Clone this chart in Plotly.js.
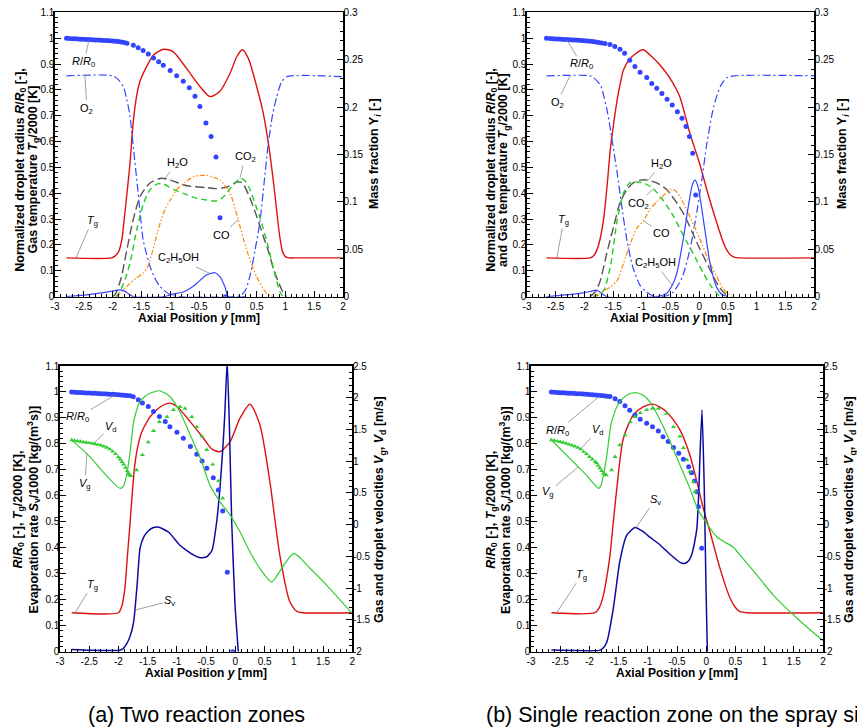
<!DOCTYPE html>
<html><head><meta charset="utf-8">
<script src="https://cdn.plot.ly/plotly-3.0.1.min.js"></script>
<style>html,body{margin:0;padding:0;background:#fff;}#chart{width:857px;height:728px;}</style>
</head><body><div id="chart"></div>
<script>
// ---------- tick labels ----------
const xTickVals = [-3,-2.5,-2,-1.5,-1,-0.5,0,0.5,1,1.5,2];
const xTickText = ["-3","-2.5","-2","-1.5","-1","-0.5","0","0.5","1","1.5","2"];
const vTickVals = [-2,-1.5,-1,-0.5,0,0.5,1,1.5,2,2.5];
const vTickText = ["-2","-1.5","-1","-0.5","0","0.5","1","1.5","2","2.5"];

// ---------- (a) top: two reaction zones ----------
const tlR_x = [-2.8,-2.75,-2.7,-2.65,-2.6,-2.55,-2.5,-2.45,-2.4,-2.35,-2.3,-2.25,-2.2,-2.15,-2.1,-2.05,-2.0,-1.95,-1.9,-1.85,-1.8,-1.75,-1.64,-1.556,-1.47,-1.38,-1.29,-1.2,-1.12,-1.0,-0.888,-0.773,-0.669,-0.57,-0.484,-0.38,-0.29,-0.205,-0.135,-0.04];
const tlR_y = [1.0,0.999,0.998,0.998,0.997,0.996,0.996,0.995,0.995,0.994,0.993,0.993,0.992,0.991,0.991,0.99,0.989,0.988,0.987,0.985,0.983,0.98,0.973,0.963,0.952,0.939,0.923,0.909,0.895,0.875,0.855,0.833,0.808,0.775,0.736,0.672,0.62,0.54,0.305,0.0];
const tlT_x = [-2.8,-2.02,-1.96,-1.9,-1.84,-1.8,-1.76,-1.7,-1.64,-1.58,-1.52,-1.41,-1.29,-1.12,-0.95,-0.72,-0.48,-0.31,-0.135,0.04,0.155,0.252,0.356,0.5,0.615,0.7,0.75,0.8,0.85,0.9,0.95,1.0,1.06,1.15,2.0];
const tlT_y = [0.15,0.15,0.157,0.172,0.22,0.297,0.38,0.51,0.68,0.78,0.836,0.89,0.935,0.957,0.948,0.884,0.812,0.774,0.795,0.864,0.928,0.955,0.922,0.814,0.71,0.60,0.52,0.43,0.33,0.235,0.175,0.155,0.15,0.15,0.15];
const tlO2_x = [-2.8,-2.0,-1.9,-1.81,-1.75,-1.7,-1.64,-1.58,-1.52,-1.47,-1.41,-1.35,-1.27,-1.18,-1.0,-0.83,0.1,0.21,0.3,0.385,0.47,0.56,0.63,0.70,0.78,0.85,0.93,1.02,2.0];
const tlO2_y = [0.233,0.233,0.229,0.221,0.207,0.191,0.158,0.123,0.087,0.060,0.045,0.032,0.02,0.011,0.002,0,0,0.001,0.006,0.022,0.048,0.08,0.12,0.16,0.193,0.211,0.226,0.232,0.232];
const tlH2O_x = [-2.0,-1.95,-1.85,-1.77,-1.64,-1.52,-1.35,-1.15,-1.0,-0.71,-0.36,-0.2,0.0,0.16,0.25,0.385,0.5,0.62,0.7,0.79,0.94,1.02];
const tlH2O_y = [0,0.003,0.02,0.044,0.082,0.106,0.12,0.125,0.123,0.117,0.115,0.114,0.116,0.121,0.12,0.104,0.085,0.063,0.049,0.03,0.007,0];
const tlCO2_x = [-1.95,-1.9,-1.81,-1.70,-1.58,-1.47,-1.35,-1.22,-1.12,-0.94,-0.77,-0.55,-0.37,-0.2,-0.1,0.0,0.095,0.224,0.3,0.385,0.48,0.56,0.70,0.8,0.906,0.96];
const tlCO2_y = [0,0.003,0.014,0.035,0.071,0.097,0.113,0.119,0.119,0.113,0.109,0.104,0.102,0.101,0.104,0.111,0.118,0.125,0.122,0.113,0.097,0.083,0.053,0.028,0.005,0];
const tlCO_x = [-1.93,-1.8,-1.7,-1.6,-1.47,-1.4,-1.32,-1.22,-1.12,-1.0,-0.89,-0.75,-0.6,-0.45,-0.37,-0.25,-0.135,0.04,0.18,0.33,0.5,0.675,0.8];
const tlCO_y = [0,0.008,0.014,0.019,0.025,0.03,0.045,0.068,0.088,0.102,0.1126,0.12,0.1266,0.128,0.128,0.126,0.123,0.109,0.081,0.049,0.021,0.0036,0];
const tlEt_x = [-2.8,-2.6,-2.39,-2.2,-2.05,-1.95,-1.87,-1.8,-1.76,-1.7,-1.64,-1.1,-1.0,-0.9,-0.77,-0.65,-0.54,-0.45,-0.37,-0.3,-0.22,-0.135,-0.05,0.01,0.3];
const tlEt_y = [0,0.0012,0.0025,0.004,0.0055,0.0065,0.0072,0.0062,0.0048,0.002,0,0,0.002,0.0035,0.005,0.009,0.014,0.019,0.023,0.0245,0.0253,0.021,0.0105,0,0];

// ---------- (b) top: single reaction zone ----------
const trR_x = [-2.66,-2.6,-2.55,-2.5,-2.45,-2.4,-2.35,-2.3,-2.25,-2.2,-2.15,-2.1,-2.05,-2.0,-1.95,-1.9,-1.85,-1.8,-1.75,-1.7,-1.64,-1.554,-1.47,-1.38,-1.3,-1.21,-1.12,-1.03,-0.914,-0.826,-0.74,-0.65,-0.56,-0.47,-0.38,-0.3,-0.23,-0.17,-0.113,-0.061];
const trR_y = [1.0,0.999,0.998,0.997,0.997,0.996,0.995,0.995,0.994,0.993,0.993,0.992,0.991,0.99,0.989,0.988,0.987,0.985,0.983,0.981,0.979,0.975,0.968,0.957,0.942,0.915,0.89,0.868,0.848,0.825,0.806,0.786,0.764,0.741,0.715,0.69,0.658,0.62,0.555,0.393];
const trT_x = [-2.66,-1.9,-1.84,-1.78,-1.72,-1.66,-1.6,-1.55,-1.49,-1.43,-1.37,-1.32,-1.2,-1.03,-0.97,-0.857,-0.683,-0.51,-0.34,-0.16,0.0,0.15,0.3,0.42,0.48,0.55,0.62,0.71,2.0];
const trT_y = [0.15,0.15,0.158,0.182,0.23,0.31,0.44,0.567,0.67,0.76,0.83,0.877,0.922,0.952,0.955,0.935,0.896,0.845,0.774,0.63,0.52,0.40,0.29,0.21,0.181,0.16,0.152,0.15,0.15];
const trO2_x = [-2.66,-1.9,-1.84,-1.72,-1.61,-1.52,-1.43,-1.35,-1.26,-1.15,-1.03,-0.92,-0.8,-0.66,-0.566,-0.45,-0.3,-0.16,-0.04,0.05,0.13,0.25,0.37,0.48,0.6,2.0];
const trO2_y = [0.233,0.233,0.231,0.223,0.198,0.166,0.131,0.096,0.06,0.03,0.012,0.005,0.001,0,0.001,0.005,0.02,0.05,0.09,0.125,0.16,0.2,0.222,0.231,0.233,0.233];
const trH2O_x = [-1.9,-1.8,-1.72,-1.61,-1.49,-1.38,-1.26,-1.15,-1.03,-0.9,-0.74,-0.566,-0.39,-0.25,-0.1,0.014,0.13,0.25,0.35,0.45,0.51];
const trH2O_y = [0,0.006,0.0176,0.046,0.074,0.099,0.113,0.12,0.123,0.123,0.12,0.113,0.099,0.085,0.065,0.05,0.036,0.021,0.01,0.003,0];
const trCO2_x = [-1.85,-1.75,-1.66,-1.55,-1.43,-1.32,-1.21,-1.09,-0.97,-0.8,-0.62,-0.45,-0.28,-0.1,0.07,0.22,0.36];
const trCO2_y = [0,0.002,0.007,0.031,0.08,0.109,0.12,0.121,0.12,0.114,0.101,0.085,0.065,0.045,0.025,0.01,0];
const trCO_x = [-1.85,-1.7,-1.55,-1.43,-1.32,-1.2,-1.09,-0.97,-0.86,-0.74,-0.6,-0.51,-0.42,-0.33,-0.16,0.01,0.18,0.3,0.42,0.51,0.56];
const trCO_y = [0,0.005,0.01,0.017,0.035,0.056,0.072,0.08,0.092,0.1,0.108,0.113,0.112,0.105,0.084,0.061,0.036,0.022,0.008,0.003,0];
const trEt_x = [-2.66,-2.4,-2.08,-1.9,-1.79,-1.7,-1.61,-0.75,-0.566,-0.47,-0.39,-0.28,-0.19,-0.12,-0.073,-0.03,0.014,0.1,0.19,0.3,0.4,0.5];
const trEt_y = [0,0.0015,0.0036,0.0055,0.007,0.0036,0,0,0.0036,0.012,0.0247,0.06,0.095,0.118,0.123,0.118,0.105,0.07,0.035,0.0105,0.002,0];

// ---------- (a) bottom ----------
const blR_x = [-2.8,-2.75,-2.7,-2.65,-2.6,-2.55,-2.5,-2.45,-2.4,-2.35,-2.3,-2.25,-2.2,-2.15,-2.1,-2.05,-2.0,-1.95,-1.9,-1.85,-1.8,-1.746,-1.66,-1.59,-1.49,-1.4,-1.3,-1.2,-1.12,-1.0,-0.89,-0.77,-0.66,-0.57,-0.49,-0.378,-0.292,-0.217,-0.138,-0.046];
const blR_y = [1.0,0.999,0.998,0.998,0.997,0.996,0.996,0.995,0.995,0.994,0.993,0.993,0.992,0.991,0.991,0.99,0.989,0.988,0.987,0.986,0.985,0.982,0.97,0.958,0.944,0.925,0.906,0.886,0.866,0.845,0.822,0.79,0.76,0.734,0.706,0.67,0.623,0.542,0.306,0.0];
const blVd_x = [-2.8,-2.75,-2.7,-2.65,-2.6,-2.55,-2.5,-2.45,-2.4,-2.35,-2.3,-2.25,-2.2,-2.15,-2.1,-2.05,-2.0,-1.97,-1.94,-1.91,-1.88,-1.85,-1.83,-1.81,-1.79,-1.69,-1.59,-1.49,-1.4,-1.3,-1.17,-1.06,-0.947,-0.86,-0.745,-0.66,-0.57,-0.49,-0.388,-0.29,-0.217];
const blVd_y = [1.333,1.325,1.317,1.31,1.302,1.295,1.288,1.28,1.27,1.26,1.25,1.235,1.215,1.19,1.155,1.115,1.065,1.03,0.99,0.95,0.9,0.85,0.81,0.785,0.77,0.86,1.1,1.3,1.48,1.62,1.7,1.81,1.858,1.83,1.7,1.54,1.39,1.18,0.95,0.69,0.416];
const blVg_x = [-2.8,-2.52,-2.29,-2.12,-2.02,-1.97,-1.92,-1.86,-1.8,-1.74,-1.68,-1.63,-1.55,-1.46,-1.3,-1.12,-0.95,-0.77,-0.6,-0.434,-0.263,-0.09,0.079,0.25,0.42,0.62,0.79,1.0,1.28,1.56,2.0];
const blVg_y = [1.333,1.10,0.86,0.69,0.6,0.573,0.6,0.78,1.15,1.62,1.83,1.94,2.02,2.07,2.11,2.02,1.78,1.41,1.05,0.62,0.36,0.15,-0.11,-0.43,-0.69,-0.90,-0.69,-0.45,-0.69,-0.95,-1.40];
const blT_x = [-2.8,-2.0,-1.95,-1.89,-1.85,-1.8,-1.76,-1.72,-1.66,-1.6,-1.5,-1.43,-1.26,-1.12,-1.0,-0.77,-0.54,-0.4,-0.263,-0.09,0.079,0.25,0.42,0.59,0.76,0.93,1.05,1.15,2.0];
const blT_y = [0.15,0.15,0.17,0.244,0.36,0.50,0.62,0.72,0.80,0.847,0.89,0.912,0.946,0.957,0.944,0.885,0.82,0.78,0.77,0.809,0.899,0.953,0.873,0.655,0.372,0.193,0.155,0.15,0.15];
const blSv_x = [-2.8,-2.5,-2.0,-1.92,-1.86,-1.8,-1.74,-1.68,-1.63,-1.56,-1.49,-1.4,-1.32,-1.14,-0.95,-0.72,-0.6,-0.49,-0.4,-0.32,-0.26,-0.21,-0.18,-0.14,-0.1,-0.063,-0.006,0.05];
const blSv_y = [0.008,0.006,0.005,0.012,0.03,0.06,0.115,0.26,0.40,0.445,0.465,0.478,0.48,0.46,0.41,0.373,0.362,0.365,0.39,0.5,0.64,0.8,0.92,1.12,0.85,0.5,0.18,0];

// ---------- (b) bottom ----------
const brR_x = [-2.65,-2.6,-2.55,-2.5,-2.45,-2.4,-2.35,-2.3,-2.25,-2.2,-2.15,-2.1,-2.05,-2.0,-1.95,-1.9,-1.85,-1.8,-1.75,-1.7,-1.647,-1.56,-1.48,-1.39,-1.31,-1.22,-1.13,-1.02,-0.92,-0.82,-0.74,-0.65,-0.56,-0.47,-0.39,-0.3,-0.25,-0.2,-0.16,-0.134,-0.077];
const brR_y = [1.0,0.999,0.998,0.997,0.997,0.996,0.995,0.995,0.994,0.993,0.993,0.992,0.991,0.99,0.989,0.988,0.987,0.986,0.985,0.984,0.983,0.974,0.963,0.947,0.93,0.911,0.895,0.88,0.866,0.85,0.828,0.809,0.786,0.764,0.741,0.712,0.689,0.657,0.616,0.558,0.398];
const brVd_x = [-2.65,-2.6,-2.55,-2.5,-2.45,-2.4,-2.35,-2.3,-2.25,-2.2,-2.15,-2.1,-2.05,-2.0,-1.95,-1.9,-1.875,-1.85,-1.82,-1.79,-1.76,-1.73,-1.71,-1.62,-1.56,-1.48,-1.39,-1.3,-1.22,-1.13,-1.02,-0.92,-0.82,-0.68,-0.56,-0.45,-0.39,-0.33,-0.28,-0.22,-0.19];
const brVd_y = [1.333,1.325,1.315,1.305,1.295,1.28,1.265,1.25,1.235,1.215,1.19,1.15,1.115,1.07,1.03,0.99,0.97,0.93,0.89,0.85,0.81,0.79,0.78,0.86,1.07,1.255,1.41,1.62,1.7,1.76,1.81,1.83,1.83,1.75,1.54,1.39,1.21,1.02,0.835,0.677,0.52];
const brVg_x = [-2.646,-2.45,-2.22,-2.05,-1.95,-1.88,-1.85,-1.81,-1.76,-1.70,-1.66,-1.62,-1.5,-1.36,-1.22,-1.08,-0.96,-0.79,-0.62,-0.45,-0.28,-0.135,0.01,0.18,0.35,0.46,0.58,0.865,1.15,1.55,2.0];
const brVg_y = [1.333,1.15,0.94,0.78,0.67,0.6,0.573,0.6,0.78,1.1,1.4,1.62,1.91,2.04,2.08,2.04,1.93,1.65,1.31,0.94,0.573,0.23,0.02,-0.19,-0.29,-0.35,-0.48,-0.79,-1.11,-1.47,-1.83];
const brT_x = [-2.65,-1.904,-1.83,-1.76,-1.7,-1.647,-1.59,-1.53,-1.42,-1.25,-1.08,-0.906,-0.68,-0.45,-0.28,-0.16,-0.05,0.065,0.236,0.41,0.5,0.58,0.7,2.0];
const brT_y = [0.15,0.15,0.17,0.218,0.29,0.372,0.5,0.63,0.82,0.911,0.943,0.953,0.924,0.854,0.757,0.655,0.552,0.462,0.321,0.206,0.17,0.154,0.15,0.15];
const brSv_x = [-2.65,-2.3,-1.83,-1.76,-1.70,-1.59,-1.48,-1.36,-1.22,-1.08,-0.96,-0.79,-0.62,-0.45,-0.37,-0.3,-0.25,-0.2,-0.16,-0.13,-0.106,-0.072,-0.033,-0.003,0.02];
const brSv_y = [0.007,0.005,0.005,0.015,0.038,0.167,0.347,0.449,0.478,0.462,0.440,0.411,0.375,0.344,0.34,0.35,0.372,0.42,0.475,0.6,0.757,0.931,0.629,0.244,0];

// ---------- styles ----------
const FONT = 'Liberation Sans, Arial, Helvetica, sans-serif';
const C = {red:'#dd1111', blue:'#3344ff', gray:'#555555', green:'#22cc22', orange:'#ff8c1a', dblue:'#0a0aa0', vg:'#33cc33'};
const W = 857, H = 728;

function line(x, y, xa, ya, color, dash, width, smooth){
  return {x:x, y:y, xaxis:xa, yaxis:ya, type:'scatter', mode:'lines', hoverinfo:'skip',
    line:{color:color, dash:dash||'solid', width:width||1.3, shape:'spline', smoothing:smooth===undefined?0.7:smooth}};
}
function dots(x, y, xa, ya, color, symbol, size){
  return {x:x, y:y, xaxis:xa, yaxis:ya, type:'scatter', mode:'markers', hoverinfo:'skip',
    marker:{color:color, symbol:symbol, size:size, line:{width:0}}};
}
const O2DASH = '8px,3px,2px,3px';
const CODASH = '5px,2px,1.5px,2px,1.5px,2px';
const H2ODASH = '9px,4px';
const CO2DASH = '6px,4px';

function species(xa, yl, yr, d){
  return [
    line(d.O2x, d.O2y, xa, yr, C.blue, O2DASH, 1.2),
    line(d.H2Ox, d.H2Oy, xa, yr, C.gray, H2ODASH, 1.4),
    line(d.CO2x, d.CO2y, xa, yr, C.green, CO2DASH, 1.4),
    line(d.COx, d.COy, xa, yr, C.orange, CODASH, 1.3),
    line(d.Etx, d.Ety, xa, yr, C.blue, 'solid', 1.2),
    line(d.Tx, d.Ty, xa, yl, C.red, 'solid', 1.4),
    dots(d.Rx, d.Ry, xa, yl, C.blue, 'circle', 5)
  ];
}
function bottom(xa, yl, yr, d){
  return [
    line(d.Vgx, d.Vgy, xa, yr, C.vg, 'solid', 1.2),
    line(d.Tx, d.Ty, xa, yl, C.red, 'solid', 1.4),
    line(d.Svx, d.Svy, xa, yl, C.dblue, 'solid', 1.5, 0.5),
    dots(d.Vdx, d.Vdy, xa, yr, C.vg, 'triangle-up', 4.5),
    dots(d.Rx, d.Ry, xa, yl, C.blue, 'circle', 5)
  ];
}

const data = [].concat(
  species('x','y','y2',{O2x:tlO2_x,O2y:tlO2_y,H2Ox:tlH2O_x,H2Oy:tlH2O_y,CO2x:tlCO2_x,CO2y:tlCO2_y,COx:tlCO_x,COy:tlCO_y,Etx:tlEt_x,Ety:tlEt_y,Tx:tlT_x,Ty:tlT_y,Rx:tlR_x,Ry:tlR_y}),
  species('x2','y3','y4',{O2x:trO2_x,O2y:trO2_y,H2Ox:trH2O_x,H2Oy:trH2O_y,CO2x:trCO2_x,CO2y:trCO2_y,COx:trCO_x,COy:trCO_y,Etx:trEt_x,Ety:trEt_y,Tx:trT_x,Ty:trT_y,Rx:trR_x,Ry:trR_y}),
  bottom('x3','y5','y6',{Vgx:blVg_x,Vgy:blVg_y,Tx:blT_x,Ty:blT_y,Svx:blSv_x,Svy:blSv_y,Vdx:blVd_x,Vdy:blVd_y,Rx:blR_x,Ry:blR_y}),
  bottom('x4','y7','y8',{Vgx:brVg_x,Vgy:brVg_y,Tx:brT_x,Ty:brT_y,Svx:brSv_x,Svy:brSv_y,Vdx:brVd_x,Vdy:brVd_y,Rx:brR_x,Ry:brR_y})
);

// ---------- axes ----------
const tickFont = {family:FONT, size:10, color:'#000'};
function base(){
  return {showline:true, linecolor:'#000', linewidth:1.6, ticks:'inside', ticklen:6, tickwidth:1,
    tickcolor:'#000', showgrid:false, zeroline:false, tickfont:tickFont, fixedrange:true};
}
function xAx(l, r, anchor){
  return Object.assign(base(), {domain:[l/W, r/W], anchor:anchor, range:[-3,2], mirror:true,
    tickmode:'array', tickvals:xTickVals, ticktext:xTickText,
    minor:{ticks:'inside', ticklen:3, tickmode:'linear', tick0:-3, dtick:0.1, tickcolor:'#000', tickwidth:1}});
}
function yL(t, b, anchor){
  return Object.assign(base(), {domain:[1-b/H, 1-t/H], anchor:anchor, range:[0,1.1],
    tickmode:'linear', tick0:0, dtick:0.1, ticklabelstandoff:-3,
    minor:{ticks:'inside', ticklen:3, tickmode:'linear', tick0:0, dtick:0.02, tickcolor:'#000', tickwidth:1}});
}
function yRtop(over, anchor){
  return Object.assign(base(), {overlaying:over, side:'right', anchor:anchor, range:[0,0.3],
    tickmode:'linear', tick0:0, dtick:0.05, ticklabelstandoff:-3,
    minor:{ticks:'inside', ticklen:3, tickmode:'linear', tick0:0, dtick:0.01, tickcolor:'#000', tickwidth:1}});
}
function yRbot(over, anchor){
  return Object.assign(base(), {overlaying:over, side:'right', anchor:anchor, range:[-2,2.5],
    tickmode:'array', tickvals:vTickVals, ticktext:vTickText, ticklabelstandoff:-3,
    minor:{ticks:'inside', ticklen:3, tickmode:'linear', tick0:-2, dtick:0.1, tickcolor:'#000', tickwidth:1}});
}

// ---------- annotations ----------
const ann = [];
function P(px, py){ return {x:px/W, y:1-py/H}; }
function title(text, px, py, angle, size){
  const p = P(px, py);
  ann.push({text:'<b>'+text+'</b>', xref:'paper', yref:'paper', x:p.x, y:p.y, xanchor:'center', yanchor:'middle',
    textangle:angle||0, showarrow:false, font:{family:FONT, size:size||12.5, color:'#000'}});
}
const RR0 = '<i>R</i>/<i>R</i><sub>0</sub>';
const TG = '<i>T</i><sub>g</sub>';
// x-axis titles
title('Axial Position <i>y</i> [mm]', 199, 318, 0, 12);
title('Axial Position <i>y</i> [mm]', 671, 318, 0, 12);
title('Axial Position <i>y</i> [mm]', 206, 673, 0, 12);
title('Axial Position <i>y</i> [mm]', 677, 673, 0, 12);
// left titles
title('Normalized droplet radius '+RR0+' [-],', 20.7, 170, -90);
title('Gas temperature '+TG+'/2000 [K]', 33.5, 170, -90);
title('Normalized droplet radius '+RR0+' [-],', 491.7, 170, -90);
title('and Gas temperature '+TG+'/2000 [K]', 504, 170, -90);
title(RR0+' [-], '+TG+'/2000 [K],', 18.5, 510, -90);
title('Evaporation rate <i>S</i><sub>v</sub>/1000 [kg/(m<sup>3</sup>s)]', 33.5, 510, -90);
title(RR0+' [-], '+TG+'/2000 [K],', 491.7, 510, -90);
title('Evaporation rate <i>S</i><sub>v</sub>/1000 [kg/(m<sup>3</sup>s)]', 506, 510, -90);
// right titles
title('Mass fraction Y<sub><i>i</i></sub> [-]', 375, 154, -90);
title('Mass fraction Y<sub><i>i</i></sub> [-]', 843, 154, -90);
title('Gas and droplet velocities <i>V</i><sub>g</sub>, <i>V</i><sub>d</sub> [m/s]', 380, 510, -90);
title('Gas and droplet velocities <i>V</i><sub>g</sub>, <i>V</i><sub>d</sub> [m/s]', 850, 510, -90);

// curve labels with leader lines
function lab(text, xa, ya, x, y, ax, ay){
  ann.push({text:text, xref:xa, yref:ya, x:x, y:y, ax:ax, ay:ay, showarrow:true, arrowhead:0,
    arrowwidth:0.7, arrowcolor:'#777', standoff:0, startstandoff:0,
    font:{family:FONT, size:11, color:'#000'}});
}
lab(RR0,'x','y',-2.41,0.993,-5,22);
lab('O<sub>2</sub>','x','y2',-2.48,0.233,2,33);
lab(TG,'x','y',-2.635,0.15,16,-37);
lab('H<sub>2</sub>O','x','y2',-1.09,0.125,12,-15);
lab('CO<sub>2</sub>','x','y2',0.212,0.125,5,-21);
lab('CO','x','y2',0.18,0.081,-17,15);
lab('C<sub>2</sub>H<sub>5</sub>OH','x','y2',-0.309,0.0245,-32,-15);

lab(RR0,'x2','y3',-2.31,0.995,15,25);
lab('O<sub>2</sub>','x2','y4',-2.25,0.233,-13,27);
lab(TG,'x2','y3',-2.48,0.15,7,-38);
lab('H<sub>2</sub>O','x2','y4',-0.887,0.123,13,-16);
lab('CO<sub>2</sub>','x2','y4',-0.8,0.114,-15,15);
lab('CO','x2','y4',-0.97,0.08,18,12);
lab('C<sub>2</sub>H<sub>5</sub>OH','x2','y4',-0.47,0.012,-17,-22);

lab(RR0,'x3','y5',-2.06,0.988,-37,22);
lab('<i>V</i><sub>d</sub>','x3','y6',-2.43,1.276,18,-17);
lab('<i>V</i><sub>g</sub>','x3','y6',-2.54,1.12,-2,30);
lab(TG,'x3','y5',-2.74,0.15,17,-28);
lab('<i>S</i><sub>v</sub>','x3','y5',-1.72,0.16,35,-9);

lab(RR0,'x4','y7',-1.82,0.985,-42,35);
lab('<i>V</i><sub>d</sub>','x4','y8',-2.16,1.18,18,-20);
lab('<i>V</i><sub>g</sub>','x4','y8',-2.19,0.91,-30,25);
lab(TG,'x4','y7',-2.56,0.15,25,-38);
lab('<i>S</i><sub>v</sub>','x4','y7',-1.2,0.478,19,-28);

// captions
ann.push({text:'(a) Two reaction zones', xref:'paper', yref:'paper', x:86/W, y:1-715/H, xanchor:'left', yanchor:'middle',
  showarrow:false, font:{family:FONT, size:21.5, color:'#000'}});
ann.push({text:'(b) Single reaction zone on the spray side', xref:'paper', yref:'paper', x:484/W, y:1-715/H, xanchor:'left', yanchor:'middle',
  showarrow:false, font:{family:FONT, size:21.5, color:'#000'}});

const layout = {
  width:W, height:H, autosize:false, margin:{l:0,r:0,t:0,b:0},
  paper_bgcolor:'#fff', plot_bgcolor:'rgba(0,0,0,0)', showlegend:false,
  font:{family:FONT, color:'#000'},
  xaxis: xAx(55, 343, 'y'),
  yaxis: yL(12.3, 296.7, 'x'),
  yaxis2: yRtop('y', 'x'),
  xaxis2: xAx(527, 814, 'y3'),
  yaxis3: yL(12.3, 296.7, 'x2'),
  yaxis4: yRtop('y3', 'x2'),
  xaxis3: xAx(60, 352.3, 'y5'),
  yaxis5: yL(366, 651.7, 'x3'),
  yaxis6: yRbot('y5', 'x3'),
  xaxis4: xAx(531, 823, 'y7'),
  yaxis7: yL(366, 651.7, 'x4'),
  yaxis8: yRbot('y7', 'x4'),
  annotations: ann
};
Plotly.newPlot('chart', data, layout, {staticPlot:true, displayModeBar:false});
</script></body></html>
